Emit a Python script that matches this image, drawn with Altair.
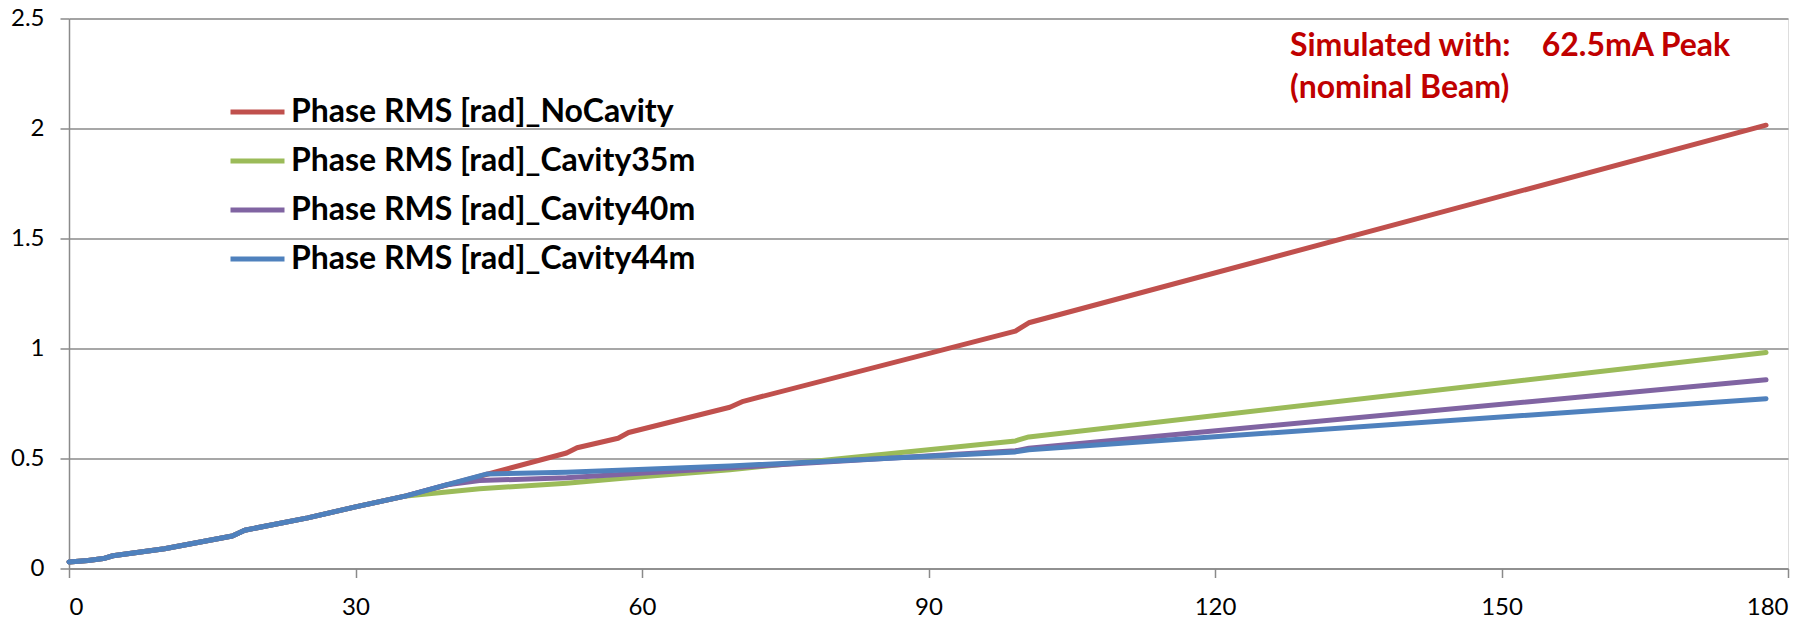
import altair as alt
import pandas as pd

# ---- data ----
series_names = [
    "Phase RMS [rad]_NoCavity",
    "Phase RMS [rad]_Cavity35m",
    "Phase RMS [rad]_Cavity40m",
    "Phase RMS [rad]_Cavity44m",
]
series_colors = ["#C0504D", "#9BBB59", "#8064A2", "#4F81BD"]

# common start shared by all runs
common_x = [0, 2, 3.6, 4.6, 10, 17.1, 18.4, 25, 30, 35.3]
common_y = [0.03, 0.036, 0.045, 0.058, 0.09, 0.148, 0.174, 0.23, 0.28, 0.33]

nocav_x = [52.1, 53.2, 57.5, 58.6, 69.2, 70.6, 99.1, 100.5, 177.7]
nocav_y = [0.525, 0.549, 0.592, 0.618, 0.733, 0.76, 1.079, 1.117, 2.015]

cav35_x = [43, 52.1, 58, 69.2, 99.1, 100.5, 177.7]
cav35_y = [0.362, 0.388, 0.41, 0.449, 0.58, 0.598, 0.982]

cav40_x = [39.6, 43, 52.1, 69.2, 99.1, 100.5, 177.7]
cav40_y = [0.381, 0.40, 0.412, 0.458, 0.535, 0.547, 0.858]

cav44_x = [39.6, 43.8, 52.1, 69.2, 99.1, 100.5, 177.7]
cav44_y = [0.381, 0.43, 0.437, 0.466, 0.53, 0.54, 0.772]

x_ticks = [0, 30, 60, 90, 120, 150, 180]
y_ticks = [0, 0.5, 1, 1.5, 2, 2.5]

note_line1 = ["Simulated with:\u00a0\u00a0\u00a0 62.5mA Peak"]
note_line2 = ["(nominal Beam)"]

# ---- build table ----
rows = []
tails = [(nocav_x, nocav_y), (cav35_x, cav35_y), (cav40_x, cav40_y), (cav44_x, cav44_y)]
for name, (tx, ty) in zip(series_names, tails):
    for xv, yv in zip(common_x + tx, common_y + ty):
        rows.append({"series": name, "x": xv, "y": yv})
df = pd.DataFrame(rows)

FONT = "Lato"
GRID = "#8A8A8A"

color_scale = alt.Scale(domain=series_names, range=series_colors)

base = alt.Chart(df)

layers = []
for i, name in enumerate(series_names):
    enc = dict(
        x=alt.X(
            "x:Q",
            scale=alt.Scale(domain=[0, 180], nice=False, zero=False),
            axis=alt.Axis(
                values=x_ticks, title=None, grid=False, tickSize=9,
                labelPadding=18, labelFontSize=24, labelFont=FONT,
                labelColor="#000000", domainColor=GRID, tickColor=GRID,
                domainWidth=1.5, tickWidth=1.5,
            ),
        ),
        y=alt.Y(
            "y:Q",
            scale=alt.Scale(domain=[0, 2.5], nice=False),
            axis=alt.Axis(
                values=y_ticks, title=None, grid=True, gridColor=GRID,
                gridWidth=1.5, tickSize=9, labelPadding=16, labelFontSize=24,
                labelFont=FONT, labelColor="#000000", domainColor=GRID,
                tickColor=GRID, domainWidth=1.5, tickWidth=1.5,
                format="~g",
            ),
        ),
        color=alt.Color(
            "series:N",
            scale=color_scale,
            legend=alt.Legend(
                title=None, orient="none", legendX=159, legendY=64,
                symbolType="stroke", symbolSize=2916, symbolStrokeWidth=5,
                labelFont=FONT, labelFontWeight="bold", labelFontSize=32,
                labelColor="#000000", labelLimit=1000, labelOffset=4,
                rowPadding=3, padding=0,
            ),
        ),
    )
    layer = (
        base.transform_filter(alt.datum.series == name)
        .mark_line(strokeWidth=5, strokeCap="round", strokeJoin="round")
        .encode(**enc)
    )
    layers.append(layer)

note1 = alt.Chart(pd.DataFrame({"t": note_line1})).mark_text(
    align="left", baseline="middle", font=FONT, fontWeight="bold",
    fontSize=32, color="#C00000",
).encode(x=alt.value(1221), y=alt.value(27), text="t:N")

note2 = alt.Chart(pd.DataFrame({"t": note_line2})).mark_text(
    align="left", baseline="middle", font=FONT, fontWeight="bold",
    fontSize=32, color="#C00000",
).encode(x=alt.value(1221), y=alt.value(69), text="t:N")

chart = (
    alt.layer(*layers, note1, note2)
    .properties(
        width=1719,
        height=550,
        autosize=alt.AutoSizeParams(type="none"),
        padding={"left": 61, "top": 10.5, "right": 18, "bottom": 56},
    )
    .configure_view(stroke=None)
    .configure(background="#FFFFFF")
)

chart.save("out.html", embed_options={"renderer": "svg", "actions": False})
